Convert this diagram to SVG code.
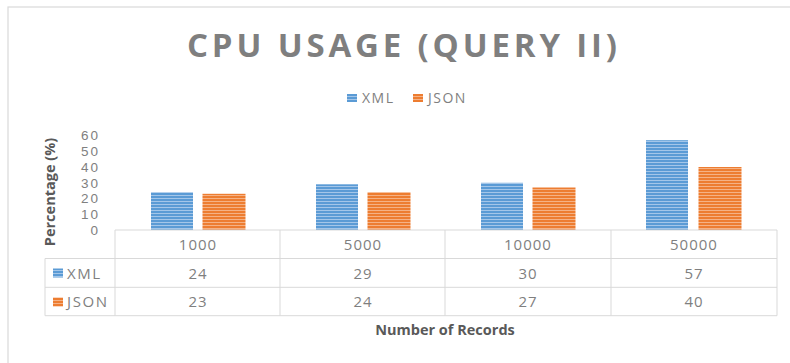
<svg xmlns="http://www.w3.org/2000/svg" width="790" height="363" viewBox="0 0 790 363">
<style>
.t{font-family:"Open Sans","Liberation Sans",sans-serif;fill:#7f7f7f}
.n{font-size:15px;text-anchor:middle;letter-spacing:1px}
.tick{font-family:"Liberation Sans",Arial,sans-serif;font-size:13.5px;text-anchor:end;letter-spacing:2px;fill:#808080}
.ax{font-family:"Open Sans","Liberation Sans",sans-serif;font-weight:bold;font-size:14.5px;fill:#595959}
.grid{stroke:#d9d9d9;stroke-width:1;fill:none}
</style>
<defs>
<pattern id="pb" width="6" height="3" patternUnits="userSpaceOnUse">
<rect width="6" height="3" fill="#5b9bd5"/>
<rect y="0" width="6" height="1" fill="#a4c6e9"/>
</pattern>
<pattern id="po" width="6" height="3" patternUnits="userSpaceOnUse">
<rect width="6" height="3" fill="#ed7d31"/>
<rect y="0" width="6" height="1" fill="#f5b285"/>
</pattern>
</defs>
<rect width="790" height="363" fill="#ffffff"/>
<rect x="8" y="7" width="800" height="400" fill="none" stroke="#d9d9d9" stroke-width="1.2"/>
<g id="title">
<text class="t" x="402" y="56.5" font-size="33" font-weight="bold" text-anchor="middle" textLength="430" lengthAdjust="spacing">CPU USAGE (QUERY II)</text>
</g>
<g id="legend">
<rect x="347" y="94" width="10" height="8" fill="url(#pb)"/>
<text class="t" x="362" y="102.5" font-size="14" letter-spacing="1.5">XML</text>
<rect x="413" y="94" width="10" height="8" fill="url(#po)"/>
<text class="t" x="428" y="102.5" font-size="14" letter-spacing="1.5">JSON</text>
</g>
<g id="y-axis">
<text class="tick" x="100" y="140">60</text>
<text class="tick" x="100" y="155.5">50</text>
<text class="tick" x="100" y="171.5">40</text>
<text class="tick" x="100" y="187.5">30</text>
<text class="tick" x="100" y="203">20</text>
<text class="tick" x="100" y="219">10</text>
<text class="tick" x="100" y="235">0</text>
<text class="ax" transform="translate(55 192) rotate(-90)" text-anchor="middle">Percentage (%)</text>
</g>
<g id="bars">
<rect x="151" y="192.2" width="42" height="37.8" fill="url(#pb)"/>
<rect x="202.5" y="193.8" width="43" height="36.2" fill="url(#po)"/>
<rect x="316" y="184.3" width="42" height="45.7" fill="url(#pb)"/>
<rect x="367.5" y="192.2" width="43" height="37.8" fill="url(#po)"/>
<rect x="481" y="182.8" width="42" height="47.2" fill="url(#pb)"/>
<rect x="532.5" y="187.5" width="43" height="42.5" fill="url(#po)"/>
<rect x="646" y="140.2" width="42" height="89.8" fill="url(#pb)"/>
<rect x="698.5" y="167" width="43" height="63" fill="url(#po)"/>
</g>
<g id="connectors">
<path class="grid" d="M115 230H777M45 258.5H777M45 287.3H777M45 315.7H777M45 258.5V315.7M115 230V315.7M280 230V315.7M445 230V315.7M611 230V315.7M777 230V315.7"/>
</g>
<g id="table">
<text class="t n" x="198" y="250">1000</text>
<text class="t n" x="363" y="250">5000</text>
<text class="t n" x="528" y="250">10000</text>
<text class="t n" x="694" y="250">50000</text>
<rect x="53" y="268.5" width="10" height="9" fill="url(#pb)"/>
<text class="t" x="67" y="278.5" font-size="15" letter-spacing="1.6">XML</text>
<rect x="53" y="297.5" width="10" height="9" fill="url(#po)"/>
<text class="t" x="67" y="307" font-size="15" letter-spacing="1.6">JSON</text>
<text class="t n" x="198" y="278.5">24</text>
<text class="t n" x="363" y="278.5">29</text>
<text class="t n" x="528" y="278.5">30</text>
<text class="t n" x="694" y="278.5">57</text>
<text class="t n" x="198" y="307">23</text>
<text class="t n" x="363" y="307">24</text>
<text class="t n" x="528" y="307">27</text>
<text class="t n" x="694" y="307">40</text>
</g>
<g id="x-axis-title">
<text class="ax" x="445" y="335" text-anchor="middle">Number of Records</text>
</g>
</svg>
